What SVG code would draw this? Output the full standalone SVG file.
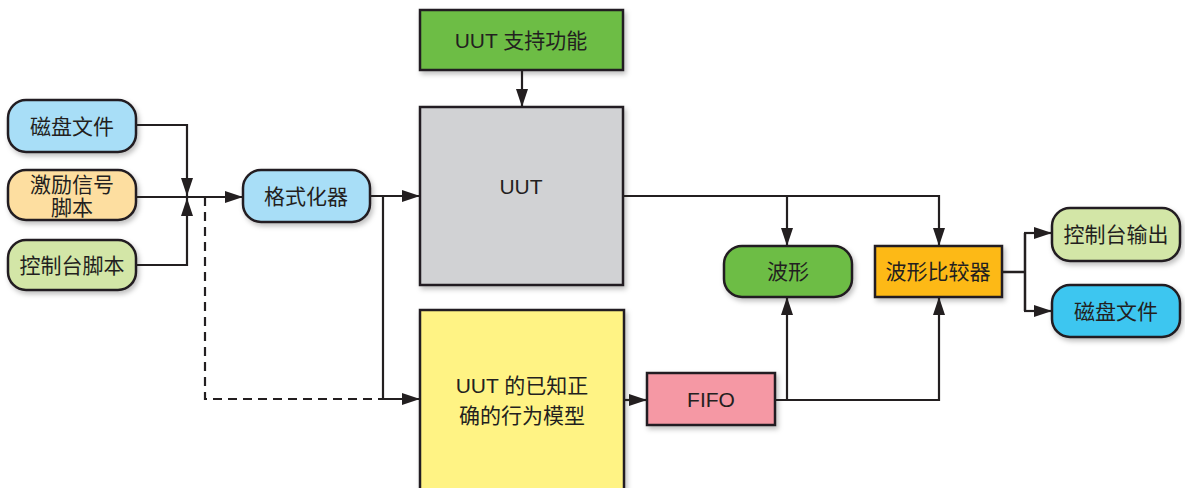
<svg xmlns="http://www.w3.org/2000/svg" width="1185" height="488" viewBox="0 0 1185 488">
<style>
.box{stroke:#231f20;stroke-width:2.5;filter:url(#sh)}
.t{font-family:"Liberation Sans","Noto Sans CJK SC",sans-serif;font-size:21px;fill:#231f20;text-anchor:middle;dominant-baseline:central}
.c{fill:none;stroke:#231f20;stroke-width:2.2}
.a{marker-end:url(#arr)}
.d{stroke-dasharray:9,6}
</style>
<defs>
<filter id="sh" x="-20%" y="-20%" width="150%" height="150%">
<feDropShadow dx="2" dy="3" stdDeviation="2.5" flood-color="#000" flood-opacity="0.25"/>
</filter>
<marker id="arr" markerUnits="userSpaceOnUse" markerWidth="18" markerHeight="12" viewBox="0 0 18 12" refX="18" refY="6" orient="auto">
<path d="M0,0 L18,6 L0,12 z" fill="#231f20"/>
</marker>
</defs>
<rect width="1185" height="488" fill="#fff"/>
<g id="disk-in"><rect class="box" x="8" y="100" width="128" height="52" rx="18" fill="#a8def7"/><text class="t" x="72" y="126">磁盘文件</text></g>
<g id="stim"><rect class="box" x="8" y="170" width="128" height="50" rx="18" fill="#fddea0"/><text class="t" x="72" y="184">激励信号</text><text class="t" x="72" y="207">脚本</text></g>
<g id="console-script"><rect class="box" x="8" y="240" width="128" height="50" rx="18" fill="#d3e6a7"/><text class="t" x="72" y="265">控制台脚本</text></g>
<g id="formatter"><rect class="box" x="243" y="170" width="127" height="52" rx="18" fill="#a8def7"/><text class="t" x="306" y="196">格式化器</text></g>
<g id="uut-support"><rect class="box" x="420" y="10" width="203" height="60" fill="#6dbd45"/><text class="t" x="521" y="40">UUT 支持功能</text></g>
<g id="uut"><rect class="box" x="420" y="107" width="203" height="178" fill="#d1d2d4"/><text class="t" x="521" y="186">UUT</text></g>
<g id="model"><rect class="box" x="420" y="310" width="204" height="190" fill="#fff384"/><text class="t" x="522" y="385">UUT 的已知正</text><text class="t" x="522" y="415">确的行为模型</text></g>
<g id="fifo"><rect class="box" x="647" y="373" width="128" height="52" fill="#f598a4"/><text class="t" x="711" y="399">FIFO</text></g>
<g id="wave"><rect class="box" x="724" y="246" width="128" height="51" rx="18" fill="#6dbd45"/><text class="t" x="788" y="271">波形</text></g>
<g id="compare"><rect class="box" x="875" y="246" width="127" height="51" fill="#fdb913"/><text class="t" x="938" y="271">波形比较器</text></g>
<g id="console-out"><rect class="box" x="1052" y="208" width="128" height="53" rx="18" fill="#d3e6a7"/><text class="t" x="1116" y="234">控制台输出</text></g>
<g id="disk-out"><rect class="box" x="1052" y="285" width="128" height="52" rx="18" fill="#3ec6f0"/><text class="t" x="1116" y="311">磁盘文件</text></g>
<g id="connectors">
<path class="c a" d="M136,125 H187 V196"/>
<path class="c a" d="M136,265 H187 V198"/>
<path class="c a" d="M136,197 H243"/>
<path class="c d" d="M205,197 V399 H383"/>
<path class="c a" d="M370,196 H420"/>
<path class="c a" d="M383,196 V399 H420"/>
<path class="c a" d="M522,70 V107"/>
<path class="c a" d="M623,196 H939 V246"/>
<path class="c a" d="M787,196 V246"/>
<path class="c a" d="M624,400 H647"/>
<path class="c a" d="M775,400 H939 V297"/>
<path class="c a" d="M787,400 V297"/>
<path class="c" d="M1002,272 H1025 M1025,233 V311" style="stroke-width:2.5"/>
<path class="c a" d="M1024,233 H1052"/>
<path class="c a" d="M1024,311 H1052"/>
</g>
</svg>
